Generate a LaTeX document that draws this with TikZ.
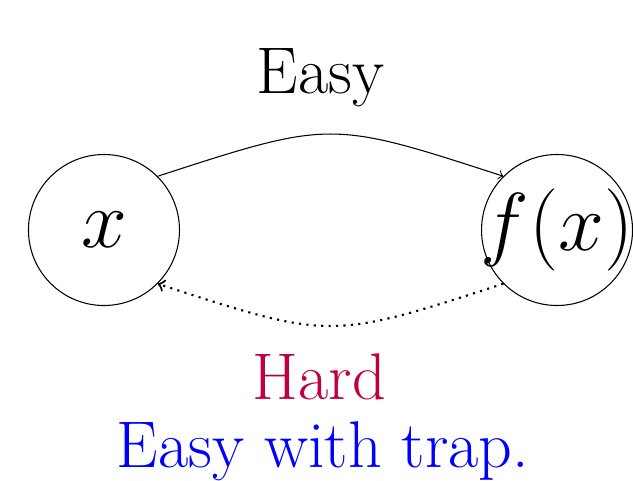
\RequirePackage{fix-cm}
\documentclass[tikz,border=0pt]{standalone}
\usepackage{amsmath, amssymb}
\usepackage{xcolor}
\usepackage{tikz}

\begin{document}
\begin{tikzpicture}[scale=1, every node/.style={font=\Huge}, state/.style={draw, circle, minimum size=2cm, inner sep=-6pt, font=\fontsize{31}{37}\selectfont}]
\useasboundingbox (-1.377,-3.311) rectangle (7.006,3.046);

\node[state] (x) at (0,0) {$x$};
\node[state] (fx) at (6,0) {$f(x)$};

\node[anchor=base] (easy) at (2.87,1.81) {Easy};
\node[anchor=base, text=purple] (hard) at (2.85,-2.25) {Hard};
\node[anchor=base, text=blue] (trap) at (2.9,-3.15) {Easy with trap.};

\draw[->] (x.north east) to[out=18, in=162, looseness=1.35] (fx.north west);
\draw[->, dotted, thick] (fx.south west) to[out=-162, in=-18, looseness=1.35] (x.south east);
\end{tikzpicture}
\end{document}
